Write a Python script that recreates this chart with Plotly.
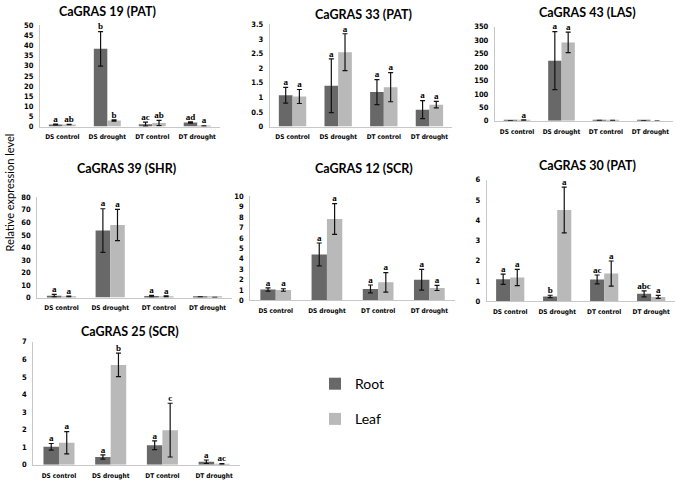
import plotly.graph_objects as go

# Data (mean relative expression, +/- error, significance letters)

categories = ["DS control", "DS drought", "DT control", "DT drought"]

gras19_root = [1.0, 38.4, 1.2, 2.0]
gras19_root_err = [0.2, 8.5, 1.0, 0.3]
gras19_leaf = [1.0, 3.0, 1.8, 0.3]
gras19_leaf_err = [0.1, 0.3, 1.3, 0.1]
gras19_root_sig = ["a", "b", "ac", "ad"]
gras19_leaf_sig = ["ab", "b", "ab", "a"]

gras33_root = [1.07, 1.40, 1.18, 0.58]
gras33_root_err = [0.27, 0.92, 0.43, 0.31]
gras33_leaf = [1.03, 2.55, 1.35, 0.75]
gras33_leaf_err = [0.24, 0.63, 0.50, 0.11]
gras33_root_sig = ["a", "a", "a", "a"]
gras33_leaf_sig = ["a", "a", "a", "a"]

gras43_root = [0.5, 224, 1.5, 1.0]
gras43_root_err = [0, 108, 0, 0]
gras43_leaf = [3, 292, 1.5, 0]
gras43_leaf_err = [1, 38, 0, 0]
gras43_root_sig = ["", "a", "", ""]
gras43_leaf_sig = ["a", "a", "", ""]

gras39_root = [1.5, 53.5, 1.2, 0.5]
gras39_root_err = [1.0, 17.4, 0.6, 0]
gras39_leaf = [0.8, 57.9, 1.0, 0.2]
gras39_leaf_err = [0.3, 12.5, 0.4, 0]
gras39_root_sig = ["a", "a", "a", ""]
gras39_leaf_sig = ["a", "a", "a", ""]

gras12_root = [1.05, 4.42, 1.10, 1.99]
gras12_root_err = [0.15, 1.10, 0.38, 1.0]
gras12_leaf = [1.0, 7.82, 1.74, 1.2]
gras12_leaf_err = [0.12, 1.48, 0.94, 0.25]
gras12_root_sig = ["a", "a", "a", "a"]
gras12_leaf_sig = ["a", "a", "a", "a"]

gras30_root = [1.09, 0.24, 1.08, 0.37]
gras30_root_err = [0.25, 0.06, 0.22, 0.15]
gras30_leaf = [1.18, 4.51, 1.37, 0.22]
gras30_leaf_err = [0.40, 1.13, 0.62, 0.07]
gras30_root_sig = ["a", "b", "ac", "abc"]
gras30_leaf_sig = ["a", "a", "a", "a"]

gras25_root = [1.02, 0.44, 1.11, 0.17]
gras25_root_err = [0.19, 0.12, 0.25, 0.10]
gras25_leaf = [1.25, 5.68, 1.97, 0.05]
gras25_leaf_err = [0.63, 0.67, 1.53, 0.02]
gras25_root_sig = ["a", "a", "a", "a"]
gras25_leaf_sig = ["a", "b", "c", "ac"]

COLORS = {
    "root": "#686868",
    "leaf": "#b9b9b9",
    "axis": "#c8c8c8",
    "text": "#000000",
}

# (title, root, root_err, leaf, leaf_err, root_sig, leaf_sig, y range, dtick,
#  x domain, y domain, title position)
panels = [
    ("CaGRAS 19 (PAT)", gras19_root, gras19_root_err, gras19_leaf, gras19_leaf_err,
     gras19_root_sig, gras19_leaf_sig, [0, 50], 5,
     [0.059, 0.325], [0.742, 0.955], (107, 8)),
    ("CaGRAS 33 (PAT)", gras33_root, gras33_root_err, gras33_leaf, gras33_leaf_err,
     gras33_root_sig, gras33_leaf_sig, [0, 3.5], 0.5,
     [0.399, 0.669], [0.742, 0.957], (363, 11)),
    ("CaGRAS 43 (LAS)", gras43_root, gras43_root_err, gras43_leaf, gras43_leaf_err,
     gras43_root_sig, gras43_leaf_sig, [0, 350], 50,
     [0.732, 0.995], [0.754, 0.952], (587, 9)),
    ("CaGRAS 39 (SHR)", gras39_root, gras39_root_err, gras39_leaf, gras39_leaf_err,
     gras39_root_sig, gras39_leaf_sig, [0, 80], 10,
     [0.055, 0.343], [0.382, 0.593], (127, 168)),
    ("CaGRAS 12 (SCR)", gras12_root, gras12_root_err, gras12_leaf, gras12_leaf_err,
     gras12_root_sig, gras12_leaf_sig, [0, 10], 1,
     [0.370, 0.673], [0.376, 0.595], (364, 168)),
    ("CaGRAS 30 (PAT)", gras30_root, gras30_root_err, gras30_leaf, gras30_leaf_err,
     gras30_root_sig, gras30_leaf_sig, [0, 6], 1,
     [0.720, 0.998], [0.374, 0.630], (587, 165)),
    ("CaGRAS 25 (SCR)", gras25_root, gras25_root_err, gras25_leaf, gras25_leaf_err,
     gras25_root_sig, gras25_leaf_sig, [0, 7], 1,
     [0.049, 0.355], [0.030, 0.289], (130, 334)),
]

W, H = 676, 484
XTICK_FONT = dict(family="DejaVu Sans Condensed, sans-serif",
                  size=6.5, color=COLORS["text"], weight="bold")
YTICK_FONT = dict(family="DejaVu Sans Condensed, sans-serif",
                  size=7.5, color=COLORS["text"], weight="bold")
LETTER_FONT = dict(family="Liberation Serif, serif", size=9, color=COLORS["text"],
                   weight="bold")

fig = go.Figure()
layout = dict(annotations=[])

for i, (title, root, root_err, leaf, leaf_err, root_sig, leaf_sig, yrange, dtick,
        xdom, ydom, tpos) in enumerate(panels):
    n = "" if i == 0 else str(i + 1)
    xa, ya = "x" + n, "y" + n

    for name, vals, errs, sig, color in [
        ("Root", root, root_err, root_sig, COLORS["root"]),
        ("Leaf", leaf, leaf_err, leaf_sig, COLORS["leaf"]),
    ]:
        fig.add_trace(go.Bar(
            x=categories, y=vals, name=name, marker_color=color,
            marker_line_width=0, offsetgroup=name, legendgroup=name,
            showlegend=(i == 0), xaxis=xa, yaxis=ya,
            error_y=dict(type="data", array=errs, color="#111111",
                         thickness=1.2, width=2.5),
        ))
        # significance letters sit just above each error bar
        tops = [v + e for v, e in zip(vals, errs)]
        fig.add_trace(go.Scatter(
            x=categories, y=tops, text=sig, mode="text",
            textposition="top center", textfont=LETTER_FONT, cliponaxis=False,
            offsetgroup=name, showlegend=False, hoverinfo="skip",
            xaxis=xa, yaxis=ya,
        ))

    layout["xaxis" + n] = dict(
        domain=xdom, anchor=ya, type="category", showline=True,
        linecolor=COLORS["axis"], linewidth=1, showgrid=False, ticks="",
        tickfont=XTICK_FONT, tickangle=0, ticklabelstandoff=4, fixedrange=True,
    )
    layout["yaxis" + n] = dict(
        domain=ydom, anchor=xa, range=yrange, dtick=dtick, showline=True,
        linecolor=COLORS["axis"], linewidth=1, showgrid=False, zeroline=False,
        ticks="", tickfont=YTICK_FONT, ticklabelstandoff=4,
    )
    layout["annotations"].append(dict(
        text=title, xref="paper", yref="paper", x=tpos[0] / W, y=1 - tpos[1] / H,
        xanchor="center", yanchor="middle", showarrow=False,
        font=dict(family="Lato, sans-serif", size=12.5, color=COLORS["text"],
                  weight="bold"),
    ))

layout["annotations"].append(dict(
    text="Relative expression level", xref="paper", yref="paper",
    x=9 / W, y=1 - 192 / H, textangle=-90, xanchor="center", yanchor="middle",
    showarrow=False,
    font=dict(family="Lato, sans-serif", size=11, color=COLORS["text"]),
))

fig.update_layout(
    **layout,
    width=W, height=H, autosize=False,
    margin=dict(l=0, r=0, t=0, b=0),
    paper_bgcolor="white", plot_bgcolor="white",
    barmode="group", bargap=0.4, bargroupgap=0,
    scattermode="group", scattergap=0.4,
    showlegend=True,
    legend=dict(x=315 / W, y=1 - 371 / H, xanchor="left", yanchor="top",
                font=dict(family="Lato, sans-serif", size=14, color=COLORS["text"]),
                traceorder="grouped", tracegroupgap=14, itemwidth=30,
                bgcolor="rgba(0,0,0,0)"),
)

# the page body has a default 8px margin; drop it so the figure fills the window
fig.write_html("out.html", config={"displayModeBar": False},
               post_script="document.body.style.margin = '0';")
